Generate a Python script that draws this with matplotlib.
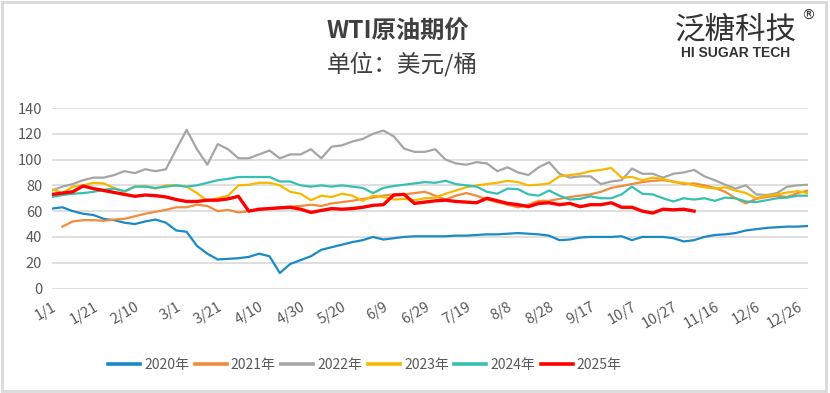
import numpy as np
import matplotlib.pyplot as plt
from matplotlib.patches import Rectangle

plt.rcParams['font.family'] = ['Noto Sans CJK SC', 'DejaVu Sans']

# 每5天取一个点（日序号）
days = np.arange(0, 366, 5)
tick_days = list(range(0, 361, 20))
tick_labels = ['1/1', '1/21', '2/10', '3/1', '3/21', '4/10', '4/30', '5/20', '6/9', '6/29',
               '7/19', '8/8', '8/28', '9/17', '10/7', '10/27', '11/16', '12/6', '12/26']

y2020 = [62, 63, 60, 58, 57, 54, 53, 51, 50, 52,
         53.5, 51, 45, 44, 33, 27, 22.5, 23, 23.5, 24.5,
         27, 25, 12, 19, 22, 25, 30, 32, 34, 36,
         37.5, 40, 38, 39, 40, 40.5, 40.5, 40.5, 40.5, 41,
         41, 41.5, 42, 42, 42.5, 43, 42.5, 42, 41, 37.5,
         38, 39.5, 40, 40, 40, 40.5, 37.5, 40, 40, 40,
         39, 36.5, 37.5, 40, 41.5, 42, 43, 45, 46, 47,
         47.5, 48, 48, 48.5]
y2021 = [np.nan, 48, 52, 53, 53, 52.5, 53.5, 54, 56, 58,
         59.5, 61, 63, 63, 65, 64, 60, 61, 59, 60,
         61, 62, 63, 63.5, 64, 65, 64, 66, 67, 68,
         69.5, 70.5, 72, 73, 73, 74, 75, 72, 69, 72,
         74, 72, 69, 67, 65, 63, 65, 68, 68, 69.5,
         71, 72, 73, 75, 78, 79.5, 81, 82.5, 83.5, 84,
         83, 81, 81.5, 80, 78, 75, 70, 66, 69.5, 71,
         72, 71, 74, 76]
y2022 = [76, 79, 81, 84, 86, 86, 88, 91, 89.5, 92.5,
         91, 92.5, 108, 123, 108, 96, 112, 108, 101, 101,
         104, 107, 101, 104, 104, 108, 101, 110, 111, 114,
         116, 120, 122.5, 118, 108.5, 106, 106, 108, 100, 97,
         96, 98, 97, 91, 94, 90, 88, 94, 98, 89,
         86, 87, 87, 81, 83, 84, 93, 89, 89, 86,
         89, 90, 92, 87, 84, 80.5, 77.5, 80, 73, 72.5,
         74, 79, 80, 80.5]
y2023 = [77, 74, 79, 80, 82, 81.5, 78, 75, 79, 79.5,
         77.5, 80, 80, 79, 74, 68, 70, 72, 80, 80.5,
         82, 82, 80, 75, 73.5, 68.5, 72, 71, 73.5, 72,
         68, 72, 71, 69, 69.5, 68.5, 70, 70.5, 73.5, 76,
         78.5, 80, 81, 82, 83.5, 82.5, 80, 80.5, 81.5, 87,
         88, 89, 91, 92, 93.5, 86, 86.5, 84, 86, 85,
         82.5, 82, 80, 78.5, 77.5, 78.5, 76, 74, 70, 72,
         73, 74.5, 75.5, 74]
y2024 = [71, 72.5, 73.5, 74, 75, 76.5, 77.5, 75.5, 79, 79,
         78, 79, 80, 79, 80, 82, 84, 85, 86.5, 86.5,
         86.5, 86.5, 83, 83, 80, 79, 80, 79, 80, 79,
         78, 74, 78, 79.5, 80.5, 81.5, 82.5, 82, 83.5, 81,
         80, 79, 75, 73.5, 77.5, 77, 73, 72, 76, 72,
         69, 69.5, 71.5, 70, 70, 73, 79, 73.5, 73, 70,
         67.5, 70, 69, 70, 68, 70.5, 70, 67.5, 67, 68.5,
         70, 70.5, 72, 72]
y2025 = [73, 74, 75, 79.5, 77.5, 76, 74.5, 73, 71.5, 72.5,
         72, 71, 69, 67.5, 67.5, 68.5, 68.5, 69.5, 71.5, 60,
         61.5, 62, 62.5, 63, 61.5, 59, 60.5, 62, 61.5, 62,
         63, 64.5, 65, 72.5, 73, 66, 67, 68, 68.5, 67.5,
         67, 66.5, 70, 68, 66, 65, 63.5, 66, 66.5, 65,
         66, 63.5, 65, 65, 66.5, 63, 63, 60, 58.5, 61.5,
         61, 61.5, 60]

series = [('2020年', y2020, '#1a8ac6', 1.6),
          ('2021年', y2021, '#f28b3b', 1.6),
          ('2022年', y2022, '#a5a5a5', 1.6),
          ('2023年', y2023, '#f7b900', 1.6),
          ('2024年', y2024, '#36c0b2', 1.6),
          ('2025年', y2025, '#ff0000', 2.4)]

fig = plt.figure(figsize=(8.3, 3.93), dpi=100)
ax = fig.add_axes([52 / 830, 1 - 288.5 / 393, 756 / 830, 180.5 / 393])

for name, vals, color, lw in series:
    ax.plot(days[:len(vals)], vals, color=color, lw=lw, label=name)

ax.set_xlim(0, 365)
ax.set_ylim(0, 140)
ax.set_yticks(range(0, 141, 20))
ax.set_xticks(tick_days)
ax.set_xticklabels(tick_labels, rotation=30, ha='right', va='top', rotation_mode='anchor')
ax.grid(axis='y', color='#d9d9d9', lw=1.2)
ax.set_axisbelow(True)
for s in ax.spines.values():
    s.set_visible(False)
ax.tick_params(length=0, colors='#595959', labelsize=10.5)
ax.tick_params(axis='x', pad=8)
ax.tick_params(axis='y', pad=7)

leg = fig.legend(loc='center', bbox_to_anchor=(365 / 830, 1 - 365 / 393), ncol=6, frameon=False,
                 fontsize=10, handlelength=2.3, handletextpad=0.3, columnspacing=0.4,
                 labelcolor='#595959')
for line in leg.get_lines():
    line.set_linewidth(2.6)

fig.text(327 / 830, 1 - 32 / 393, 'WTI原油期价', fontsize=17.5, fontweight='bold',
         color='#404040', va='center', ha='left')
fig.text(327 / 830, 1 - 64 / 393, '单位：美元/桶', fontsize=17, color='#404040',
         va='center', ha='left')

# 右上角标识
fig.text(736 / 830, 1 - 30 / 393, '泛糖科技', fontsize=22, color='#333333',
         va='center', ha='center')
fig.text(808 / 830, 1 - 16 / 393, '®', fontsize=10, color='#333333', va='center', ha='center',
         family='DejaVu Sans')
fig.text(736 / 830, 1 - 53 / 393, 'HI SUGAR TECH', fontsize=10, color='#333333',
         va='center', ha='center', family='Liberation Sans', fontweight='bold')

fig.patches.append(Rectangle((0.002, 0.004), 0.993, 0.99, transform=fig.transFigure,
                             fill=False, edgecolor='#d9d9d9', lw=2))

fig.savefig('out.png', dpi=100)
